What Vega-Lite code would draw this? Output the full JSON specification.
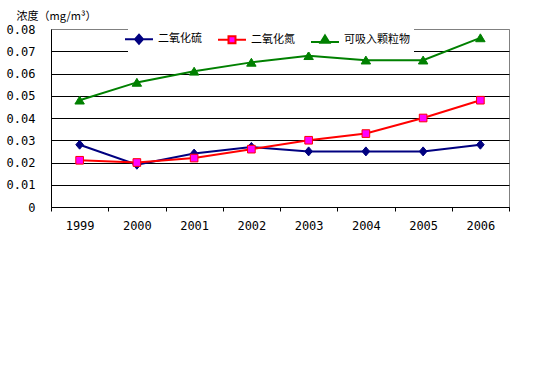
{
  "$schema": "https://vega.github.io/schema/vega-lite/v6.json",
  "width": 458,
  "height": 178,
  "autosize": "none",
  "padding": {"left": 51, "top": 29, "right": 26, "bottom": 177},
  "background": "white",
  "config": {"view": {"stroke": "#808080", "strokeWidth": 1}},
  "data": {"values": [
    {"year": "1999", "series": "二氧化硫", "value": 0.028},
    {"year": "2000", "series": "二氧化硫", "value": 0.019},
    {"year": "2001", "series": "二氧化硫", "value": 0.024},
    {"year": "2002", "series": "二氧化硫", "value": 0.027},
    {"year": "2003", "series": "二氧化硫", "value": 0.025},
    {"year": "2004", "series": "二氧化硫", "value": 0.025},
    {"year": "2005", "series": "二氧化硫", "value": 0.025},
    {"year": "2006", "series": "二氧化硫", "value": 0.028},
    {"year": "1999", "series": "二氧化氮", "value": 0.021},
    {"year": "2000", "series": "二氧化氮", "value": 0.020},
    {"year": "2001", "series": "二氧化氮", "value": 0.022},
    {"year": "2002", "series": "二氧化氮", "value": 0.026},
    {"year": "2003", "series": "二氧化氮", "value": 0.030},
    {"year": "2004", "series": "二氧化氮", "value": 0.033},
    {"year": "2005", "series": "二氧化氮", "value": 0.040},
    {"year": "2006", "series": "二氧化氮", "value": 0.048},
    {"year": "1999", "series": "可吸入颗粒物", "value": 0.048},
    {"year": "2000", "series": "可吸入颗粒物", "value": 0.056},
    {"year": "2001", "series": "可吸入颗粒物", "value": 0.061},
    {"year": "2002", "series": "可吸入颗粒物", "value": 0.065},
    {"year": "2003", "series": "可吸入颗粒物", "value": 0.068},
    {"year": "2004", "series": "可吸入颗粒物", "value": 0.066},
    {"year": "2005", "series": "可吸入颗粒物", "value": 0.066},
    {"year": "2006", "series": "可吸入颗粒物", "value": 0.076}
  ]},
  "encoding": {
    "x": {
      "field": "year", "type": "ordinal",
      "scale": {"paddingInner": 0, "paddingOuter": 0},
      "axis": {
        "title": null, "labelAngle": 0, "grid": false,
        "domainColor": "black", "tickColor": "black", "tickBand": "extent", "tickSize": 4,
        "labelFont": "DejaVu Sans Mono", "labelFontSize": 12, "labelColor": "black", "labelPadding": 9
      }
    },
    "y": {
      "field": "value", "type": "quantitative",
      "scale": {"domain": [0, 0.08], "nice": false},
      "axis": {
        "title": "浓度（mg/m³）", "titleAngle": 0, "titleX": -35, "titleY": -13,
        "titleAlign": "left", "titleBaseline": "middle",
        "titleFont": "Noto Sans CJK SC", "titleFontSize": 11, "titleFontWeight": "normal", "titleColor": "black",
        "values": [0, 0.01, 0.02, 0.03, 0.04, 0.05, 0.06, 0.07, 0.08],
        "labelExpr": "datum.value == 0 ? '0' : format(datum.value, '.2f')",
        "ticks": false, "labelPadding": 16,
        "labelFont": "DejaVu Sans Mono", "labelFontSize": 12, "labelColor": "black",
        "domainColor": "black", "grid": true, "gridOpacity": 1,
        "gridColor": {"condition": {"test": "datum.value >= 0.075", "value": "#808080"}, "value": "black"}
      }
    }
  },
  "layer": [
    {
      "mark": {"type": "line", "strokeWidth": 2},
      "encoding": {
        "stroke": {
          "field": "series", "type": "nominal",
          "scale": {"domain": ["二氧化硫", "二氧化氮", "可吸入颗粒物"], "range": ["#000080", "#FF0000", "#008000"]}
        }
      }
    },
    {
      "transform": [{"filter": "datum.series === '二氧化硫'"}],
      "mark": {"type": "point", "shape": "M0,-1L0.85,0L0,1L-0.85,0Z", "filled": true, "fill": "#000080", "stroke": "#000080", "strokeWidth": 1, "size": 81, "opacity": 1}
    },
    {
      "transform": [{"filter": "datum.series === '二氧化氮'"}],
      "mark": {"type": "point", "shape": "M-0.85,-0.85H0.85V0.85H-0.85Z", "filled": true, "fill": "#FF00FF", "stroke": "#FF0000", "strokeWidth": 1, "size": 81, "opacity": 1}
    },
    {
      "transform": [{"filter": "datum.series === '可吸入颗粒物'"}],
      "mark": {"type": "point", "shape": "M0,-0.9L1.05,0.85H-1.05Z", "filled": true, "fill": "#008000", "stroke": "#008000", "strokeWidth": 1, "size": 81, "opacity": 1}
    },
    {
      "transform": [{"filter": "datum.value < 0"}],
      "mark": {"type": "point", "filled": true, "size": 144, "opacity": 1, "strokeWidth": 2},
      "encoding": {
        "fill": {
          "field": "series", "type": "nominal",
          "scale": {"domain": ["二氧化硫", "二氧化氮", "可吸入颗粒物"], "range": ["#000080", "#FF00FF", "#008000"]}
        },
        "stroke": {
          "field": "series", "type": "nominal",
          "scale": {"domain": ["二氧化硫", "二氧化氮", "可吸入颗粒物"], "range": ["#000080", "#FF0000", "#008000"]}
        },
        "shape": {
          "field": "series", "type": "nominal",
          "scale": {"domain": ["二氧化硫", "二氧化氮", "可吸入颗粒物"], "range": [
            "M-2.333,0H2.333M0,-0.75L0.667,0L0,0.75L-0.667,0Z",
            "M-2.333,0H-0.583M0.583,0H2.333M-0.583,-0.583H0.583V0.583H-0.583Z",
            "M-2.333,0.3H2.333M0,-0.8L0.75,0.4H-0.75Z"
          ]},
          "legend": {
            "orient": "none", "legendX": 77, "legendY": -1, "direction": "horizontal",
            "title": null, "fillColor": "white", "padding": 4,
            "symbolSize": 144, "symbolStrokeWidth": 2,
            "labelFont": "Noto Sans CJK SC", "labelFontSize": 11, "labelColor": "black",
            "labelOffset": 12, "columnPadding": 12
          }
        }
      }
    }
  ]
}
